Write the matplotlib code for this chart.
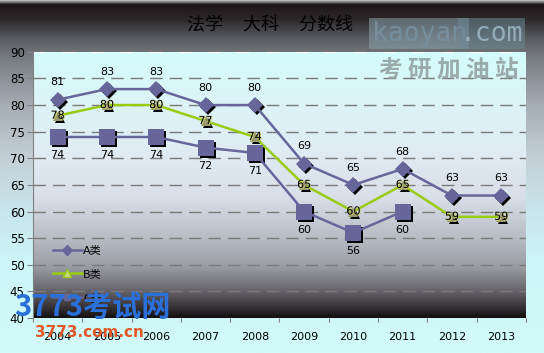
import numpy as np
import matplotlib.pyplot as plt
from matplotlib.colors import LinearSegmentedColormap
from matplotlib.transforms import offset_copy
import matplotlib.patheffects as pe

plt.rcParams['font.family'] = ['DejaVu Sans', 'Noto Sans CJK SC']

years = ['2004', '2005', '2006', '2007', '2008', '2009', '2010', '2011', '2012', '2013']
a_vals = [81, 83, 83, 80, 80, 69, 65, 68, 63, 63]
b_vals = [78, 80, 80, 77, 74, 65, 60, 65, 59, 59]
c_vals = [74, 74, 74, 72, 71, 60, 56, 60, np.nan, np.nan]
title = '法学     大科     分数线'


def gradient(ax, stops, transform, extent):
    cmap = LinearSegmentedColormap.from_list('g', stops)
    grad = np.linspace(0, 1, 256).reshape(-1, 1)
    ax.imshow(grad, cmap=cmap, aspect='auto', extent=extent,
              transform=transform, zorder=0, origin='upper')


def main():
    fig = plt.figure(figsize=(5.44, 3.53), dpi=100)

    # figure background gradient (top dark -> light cyan bottom)
    bg = fig.add_axes([0, 0, 1, 1], zorder=-10)
    gradient(bg, [(0.0, '#b8b8b8'), (0.01, '#1c1618'), (0.05, '#2a2628'),
                  (0.11, '#5a5e62'), (0.16, '#777b81'), (0.30, '#a6aeb6'),
                  (0.45, '#c4d0d8'), (0.6, '#c8e6ec'), (0.75, '#cdf6f8'),
                  (1.0, '#d2fafa')], bg.transAxes, [0, 1, 0, 1])
    bg.set_xlim(0, 1)
    bg.set_ylim(0, 1)
    bg.axis('off')

    ax = fig.add_axes([0.0607, 0.0992, 0.906, 0.754])
    ax.patch.set_visible(False)
    gradient(ax, [(0.0, '#d4fcfc'), (0.18, '#dcf4f8'), (0.37, '#e0ecf4'),
                  (0.55, '#d8dfe8'), (0.70, '#b8bcc4'), (0.81, '#9a9ca4'),
                  (0.91, '#605c62'), (1.0, '#141012')], ax.transAxes, [0, 1, 0, 1])

    x = np.arange(len(years))
    ax.set_xlim(-0.5, len(years) - 0.5)
    ax.set_ylim(40, 90)

    # grid
    for yv in range(45, 90, 5):
        ax.axhline(yv, color='#7a7a7a', lw=1, dashes=(9, 5), zorder=1)
    ax.axhline(90, color='white', lw=1.5, dashes=(6, 8), zorder=1)

    shadow = offset_copy(ax.transData, fig=fig, x=2, y=-2, units='dots')
    col_ac = '#66669a'
    col_b = '#99cc11'

    # shadows
    ax.plot(x, a_vals, 'D', ms=8, color='black', transform=shadow, zorder=2, mew=0)
    ax.plot(x, b_vals, '^', ms=7, color='black', transform=shadow, zorder=2, mew=0)
    ax.plot(x, c_vals, 's', ms=12, color='black', transform=shadow, zorder=2, mew=0)

    ax.plot(x, c_vals, '-', color=col_ac, lw=1.8, zorder=3)
    ax.plot(x, c_vals, 's', ms=12, color=col_ac, zorder=4, mew=0)
    ax.plot(x, a_vals, '-', color=col_ac, lw=1.8, zorder=3)
    ax.plot(x, a_vals, 'D', ms=8, color=col_ac, zorder=4, mew=0)
    ax.plot(x, b_vals, '-', color=col_b, lw=1.8, zorder=3)
    ax.plot(x, b_vals, '^', ms=7, color='#9a9a70', zorder=4, mew=0)

    # legend handles
    ha, = ax.plot([], [], '-D', color=col_ac, ms=5, lw=1.8, label='A类')
    hb, = ax.plot([], [], '-^', color=col_b, mfc='#c8d890', ms=6, lw=1.8, label='B类')
    hc, = ax.plot([], [], '-s', color=col_ac, ms=5, lw=1.8, label='C类')
    leg = ax.legend(handles=[ha, hb, hc], loc='upper left', bbox_to_anchor=(0.02, 0.31),
                    frameon=False, fontsize=8, handlelength=2.6, labelspacing=1.25,
                    handletextpad=0.1)
    leg.set_zorder(6)

    for xi, v in zip(x, a_vals):
        ax.annotate(str(v), (xi, v), xytext=(0, 12.5), textcoords='offset points',
                    ha='center', va='center', fontsize=8, zorder=5)
    for xi, v in zip(x, c_vals):
        if not np.isnan(v):
            ax.annotate(str(int(v)), (xi, v), xytext=(0, -13), textcoords='offset points',
                        ha='center', va='center', fontsize=8, zorder=5)
    for xi, v in zip(x, b_vals):
        ax.annotate(str(v), (xi, v), xytext=(0, 0), textcoords='offset points',
                    ha='center', va='center', fontsize=8, zorder=5, color='black',
                    path_effects=[pe.withSimplePatchShadow(offset=(0.6, -0.6), shadow_rgbFace='#cccc66', alpha=1)])

    # axes styling
    ax.set_xticks(np.arange(-0.5, len(years), 1))
    ax.set_xticklabels([])
    ax.set_xticks(x, minor=True)
    ax.set_xticklabels(years, minor=True, fontsize=8)
    ax.tick_params(axis='x', which='major', length=3, color='#808080', direction='out')
    ax.tick_params(axis='x', which='minor', length=0, pad=10)
    ax.set_yticks(range(40, 95, 5))
    ax.tick_params(axis='y', length=4, color='#808080', labelsize=8.5, pad=2)
    for s in ['top', 'right', 'bottom']:
        ax.spines[s].set_visible(False)
    ax.spines['left'].set_color('#808080')

    fig.text(0.497, 0.928, title, ha='center', va='center', fontsize=13,
             family=['Noto Sans CJK SC'])

    # watermarks
    fig.text(0.683, 0.905, 'kaoyan', fontsize=19, color='#7890a0', family='DejaVu Sans Mono',
             va='center', ha='left', alpha=0.9,
             bbox=dict(boxstyle='square,pad=0.08', fc='#8aa0ac', ec='none', alpha=0.55))
    fig.text(0.845, 0.905, '.com', fontsize=19, color='#9ab4c0', family='DejaVu Sans Mono',
             va='center', ha='left', alpha=0.9,
             bbox=dict(boxstyle='square,pad=0.08', fc='#6c8894', ec='none', alpha=0.55))
    fig.text(0.825, 0.803, '考 研 加 油 站', fontsize=17, color='#8c9898', weight='bold',
             family=['Noto Sans CJK SC'], ha='center', va='center', alpha=0.8)
    fig.text(0.17, 0.13, '3773考试网', fontsize=21, color='#2a70d8', weight='bold',
             style='italic', family=['Noto Sans CJK SC'], ha='center', va='center', zorder=10)
    fig.text(0.165, 0.058, '3773.com.cn', fontsize=11, color='#e05828', weight='bold',
             ha='center', va='center', zorder=10)

    fig.savefig('out.png', dpi=100)


if __name__ == '__main__':
    main()
